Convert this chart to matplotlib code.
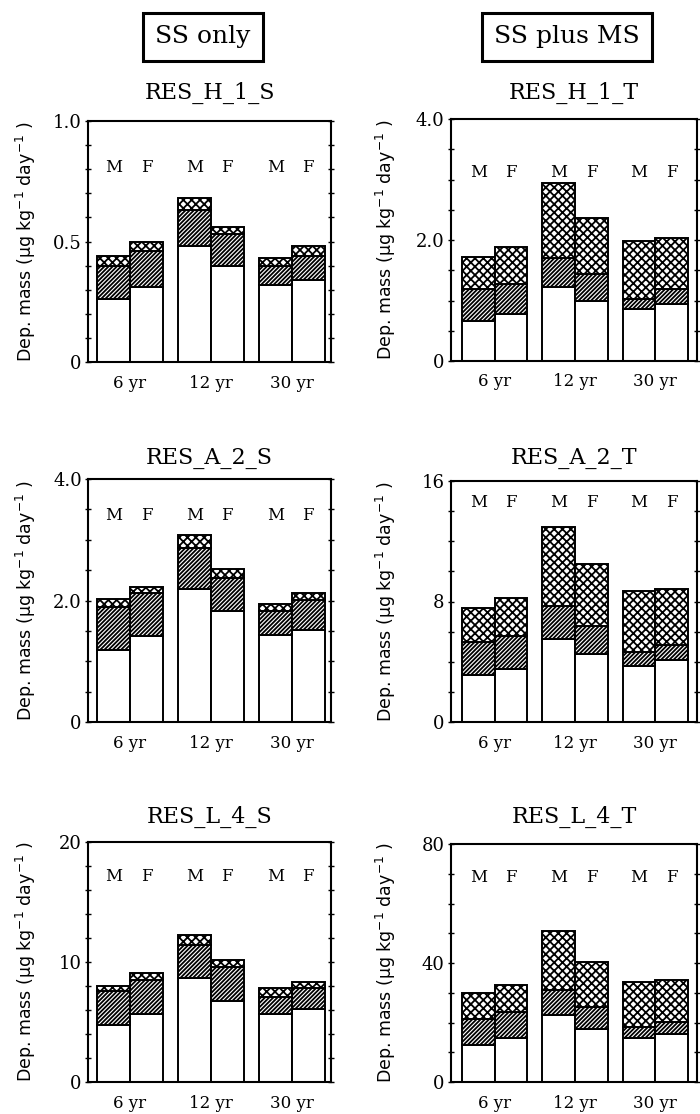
import matplotlib
matplotlib.use("Agg")
import matplotlib.pyplot as plt
import matplotlib.transforms as mtransforms
from matplotlib.ticker import MultipleLocator, FixedLocator

# --- data (cumulative levels of each stacked bar) ---
age_groups = ["6 yr", "12 yr", "30 yr"]
sexes = ["M", "F", "M", "F", "M", "F"]
column_heads = ["SS only", "SS plus MS"]

titles = ["RES_H_1_S", "RES_H_1_T",
          "RES_A_2_S", "RES_A_2_T",
          "RES_L_4_S", "RES_L_4_T"]

h1s_base = [0.26, 0.31, 0.48, 0.40, 0.32, 0.34]
h1s_mid = [0.40, 0.46, 0.63, 0.53, 0.40, 0.44]
h1s_total = [0.44, 0.50, 0.68, 0.56, 0.43, 0.48]

h1t_base = [0.66, 0.77, 1.23, 0.99, 0.86, 0.94]
h1t_mid = [1.19, 1.27, 1.71, 1.43, 1.02, 1.19]
h1t_total = [1.72, 1.88, 2.94, 2.37, 1.99, 2.03]

a2s_base = [1.19, 1.41, 2.19, 1.82, 1.44, 1.52]
a2s_mid = [1.90, 2.13, 2.86, 2.37, 1.82, 2.01]
a2s_total = [2.02, 2.23, 3.07, 2.52, 1.95, 2.12]

a2t_base = [3.09, 3.53, 5.52, 4.53, 3.75, 4.13]
a2t_mid = [5.30, 5.74, 7.73, 6.40, 4.64, 5.08]
a2t_total = [7.57, 8.21, 12.96, 10.49, 8.72, 8.83]

l4s_base = [4.74, 5.63, 8.65, 6.75, 5.66, 6.05]
l4s_mid = [7.61, 8.51, 11.44, 9.62, 7.11, 7.81]
l4s_total = [8.01, 9.07, 12.27, 10.18, 7.81, 8.37]

l4t_base = [12.5, 14.8, 22.4, 17.9, 14.8, 16.2]
l4t_mid = [21.3, 23.5, 30.8, 25.2, 18.5, 20.1]
l4t_total = [29.9, 32.7, 50.6, 40.3, 33.6, 34.3]

y_max = [1.0, 4.0, 4.0, 16, 20, 80]
y_minor = [0.1, 0.5, 0.5, 2, 2, 10]
y_labels = [["0", "0.5", "1.0"], ["0", "2.0", "4.0"],
            ["0", "2.0", "4.0"], ["0", "8", "16"],
            ["0", "10", "20"], ["0", "40", "80"]]

panels = [(h1s_base, h1s_mid, h1s_total), (h1t_base, h1t_mid, h1t_total),
          (a2s_base, a2s_mid, a2s_total), (a2t_base, a2t_mid, a2t_total),
          (l4s_base, l4s_mid, l4s_total), (l4t_base, l4t_mid, l4t_total)]

# --- layout ---
SERIF = "DejaVu Serif"
SANS = "DejaVu Sans"
plt.rcParams['hatch.linewidth'] = 1.3
plt.rcParams['font.family'] = SERIF
plt.rcParams['mathtext.fontset'] = 'dejavusans'

W, H = 700, 1114
fig = plt.figure(figsize=(W / 100, H / 100), dpi=100)

# axes boxes in pixels: (left, top, right, bottom)
boxes = [(88, 121, 331, 362), (451, 119, 697, 361),
         (88, 479, 331, 722), (451, 481, 697, 722),
         (88, 842, 331, 1082), (451, 844, 697, 1082)]
title_y = [93, 93, 458, 458, 817, 817]
sex_label_y = [0.805, 0.78, 0.85, 0.91, 0.855, 0.86]

gap = 0.45
bar_x = []
for g in range(3):
    start = g * (2 + gap)
    bar_x += [start + 0.5, start + 1.5]
group_x = [(bar_x[2 * g] + bar_x[2 * g + 1]) / 2 for g in range(3)]

for i, (base, mid, total) in enumerate(panels):
    l, t, r, b = boxes[i]
    ax = fig.add_axes([l / W, 1 - b / H, (r - l) / W, (b - t) / H])
    left_col = i % 2 == 0
    if left_col:
        ax.set_xlim(-0.27, 7.09)
    else:
        ax.set_xlim(-0.33, 7.17)
    ax.set_ylim(0, y_max[i])

    mid_h = [m - b0 for m, b0 in zip(mid, base)]
    top_h = [tt - m for tt, m in zip(total, mid)]
    ax.bar(bar_x, base, width=1.0, color="white", edgecolor="black", linewidth=1.4, zorder=2)
    ax.bar(bar_x, mid_h, bottom=base, width=1.0, color="white", edgecolor="black",
           hatch="////////", linewidth=1.4, zorder=2)
    ax.bar(bar_x, top_h, bottom=mid, width=1.0, color="white", edgecolor="black",
           hatch="xxxx", linewidth=1.4, zorder=2)

    trans = mtransforms.blended_transform_factory(ax.transData, ax.transAxes)
    for x, s in zip(bar_x, sexes):
        ax.text(x, sex_label_y[i], s, transform=trans, ha="center", va="center",
                fontsize=12, family=SERIF)

    ax.set_xticks(group_x)
    ax.set_xticklabels(age_groups, fontsize=12, family=SERIF)
    ax.tick_params(axis="x", length=0, pad=9)

    ax.yaxis.set_major_locator(FixedLocator([0, y_max[i] / 2, y_max[i]]))
    ax.set_yticklabels(y_labels[i], fontsize=13, family=SERIF)
    ax.yaxis.set_minor_locator(MultipleLocator(y_minor[i]))
    ax.tick_params(axis="y", which="both", direction="inout", left=True, right=True,
                   length=5, width=1.0, pad=2)

    for sp in ax.spines.values():
        sp.set_linewidth(1.5)

    ax.set_ylabel("Dep. mass (\u00b5g kg$^{-1}$ day$^{-1}$ )", fontsize=12.5,
                  family=SANS)
    if left_col:
        ax.yaxis.set_label_coords(-0.205, 0.5)
    else:
        ax.yaxis.set_label_coords(-0.215, 0.5)

    fig.text(((l + r) / 2) / W, 1 - title_y[i] / H, titles[i], ha="center",
             va="center", fontsize=16, family=SERIF)

# column header boxes
fig.text(203 / W, 1 - 37 / H, column_heads[0], ha="center", va="center",
         fontsize=18, family=SERIF,
         bbox=dict(boxstyle="square,pad=0.5", fc="white", ec="black", lw=2.2))
fig.text(567 / W, 1 - 37 / H, column_heads[1], ha="center", va="center",
         fontsize=18, family=SERIF,
         bbox=dict(boxstyle="square,pad=0.5", fc="white", ec="black", lw=2.2))

fig.savefig("out.png", dpi=100)
